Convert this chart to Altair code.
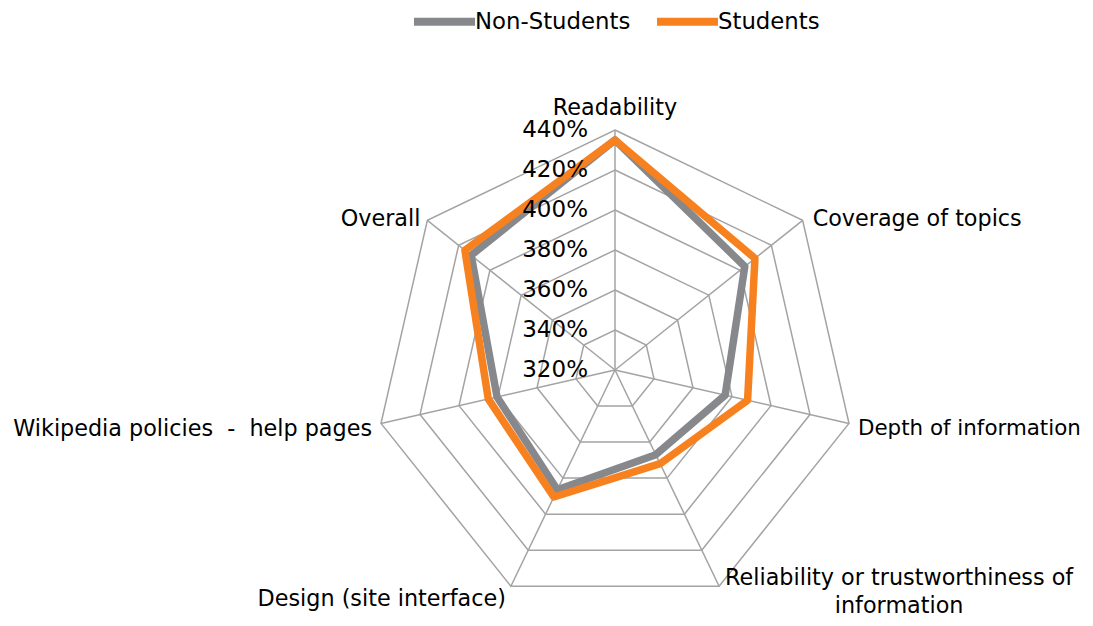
import math
import altair as alt
import pandas as pd

# ---- data ----
categories = [
    "Readability",
    "Coverage of topics",
    "Depth of information",
    "Reliability or trustworthiness of\ninformation",
    "Design (site interface)",
    "Wikipedia policies \u00a0- \u00a0help pages",
    "Overall",
]
non_students = [435, 403, 376.5, 367, 386.5, 380.5, 412]
students = [435, 409.5, 388, 372, 390.5, 385, 416]
series_names = ["Non-Students", "Students"]
series_colors = ["#87888c", "#f7811f"]
ring_values = [340, 360, 380, 400, 420, 440]
tick_values = [320, 340, 360, 380, 400, 420, 440]
axis_min = 320
axis_max = 440

FONT = "DejaVu Sans"
FS = 22.3
N = len(categories)

rows = []
for name, vals in zip(series_names, [non_students, students]):
    for i, (c, v) in enumerate(zip(categories, vals)):
        rows.append({"series": name, "i": i, "category": c, "value": v})
series_df = pd.DataFrame(rows)

ring_df = pd.DataFrame([{"ring": r, "i": i, "value": r} for r in ring_values for i in range(N)])
spoke_df = pd.DataFrame([{"i": i, "value": axis_max} for i in range(N)])
label_df = pd.DataFrame([{"i": i, "label": c, "value": axis_max} for i, c in enumerate(categories)])
tick_df = pd.DataFrame([{"value": t, "label": f"{t}%"} for t in tick_values])

xs = alt.Scale(domain=[-303.5, 235], nice=False, zero=False)
ys = alt.Scale(domain=[-124, 181], nice=False, zero=False)


def polar(ch):
    return ch.transform_calculate(
        theta=f"datum.i * 2 * PI / {N}",
        r=f"datum.value - {axis_min}",
    ).transform_calculate(
        px="datum.r * sin(datum.theta)",
        py="datum.r * cos(datum.theta)",
    )


X = alt.X("px:Q", scale=xs, axis=None)
Y = alt.Y("py:Q", scale=ys, axis=None)

rings = polar(alt.Chart(ring_df)).mark_line(
    interpolate="linear-closed", stroke="#a3a3a3", strokeWidth=1.5
).encode(x=X, y=Y, detail="ring:N", order="i:Q")

spokes = polar(alt.Chart(spoke_df)).mark_rule(stroke="#a3a3a3", strokeWidth=1.5).encode(
    x=alt.X("zero:Q", scale=xs, axis=None),
    y=alt.Y("zero:Q", scale=ys, axis=None),
    x2="px:Q",
    y2="py:Q",
).transform_calculate(zero="0")

lines = polar(alt.Chart(series_df)).mark_line(
    interpolate="linear-closed", strokeWidth=7.5, strokeJoin="round"
).encode(
    x=X,
    y=Y,
    order="i:Q",
    color=alt.Color(
        "series:N",
        scale=alt.Scale(domain=series_names, range=series_colors),
        legend=alt.Legend(
            orient="none",
            legendX=402,
            legendY=-21,
            direction="horizontal",
            title=None,
            symbolType="stroke",
            symbolSize=3721,
            symbolStrokeWidth=8,
            labelFont=FONT,
            labelFontSize=22.8,
            labelColor="#000000",
            labelOffset=alt.ExprRef(expr="-4"),
            columnPadding=10,
            labelLimit=400,
        ),
    ),
)

ticks = polar(alt.Chart(tick_df).transform_calculate(i="0")).mark_text(
    align="right", baseline="middle", dx=-27, font=FONT, fontSize=23, color="#000000"
).encode(x=X, y=Y, text="label:N")


def cat_labels(idx, **kw):
    base = dict(font=FONT, fontSize=FS, color="#000000", lineBreak="\n")
    base.update(kw)
    return polar(
        alt.Chart(label_df).transform_filter(
            alt.FieldOneOfPredicate(field="i", oneOf=idx)
        )
    ).mark_text(**base).encode(x=X, y=Y, text="label:N")


lab_top = cat_labels([0], align="center", baseline="alphabetic", dy=-15)
lab_cov = cat_labels([1], align="left", baseline="middle", dx=10, dy=-1)
lab_depth = cat_labels([2], align="left", baseline="middle", dx=9, dy=6, fontSize=21.4)
lab_rel = cat_labels([3], align="center", baseline="middle", dx=180, dy=-8, lineHeight=28)
lab_design = cat_labels([4], align="right", baseline="middle", dx=-5, dy=13)
lab_wiki = cat_labels([5], align="right", baseline="middle", dx=-9, dy=6)
lab_over = cat_labels([6], align="right", baseline="middle", dx=-7, dy=-1)

chart = alt.layer(
    rings, spokes, lines, ticks,
    lab_top, lab_cov, lab_depth, lab_rel, lab_design, lab_wiki, lab_over,
).properties(
    width=1077,
    height=610,
    autosize=alt.AutoSizeParams(type="none"),
    padding=0,
).configure_view(stroke=None)

chart.save("out.html", embed_options={"renderer": "svg", "actions": False})
